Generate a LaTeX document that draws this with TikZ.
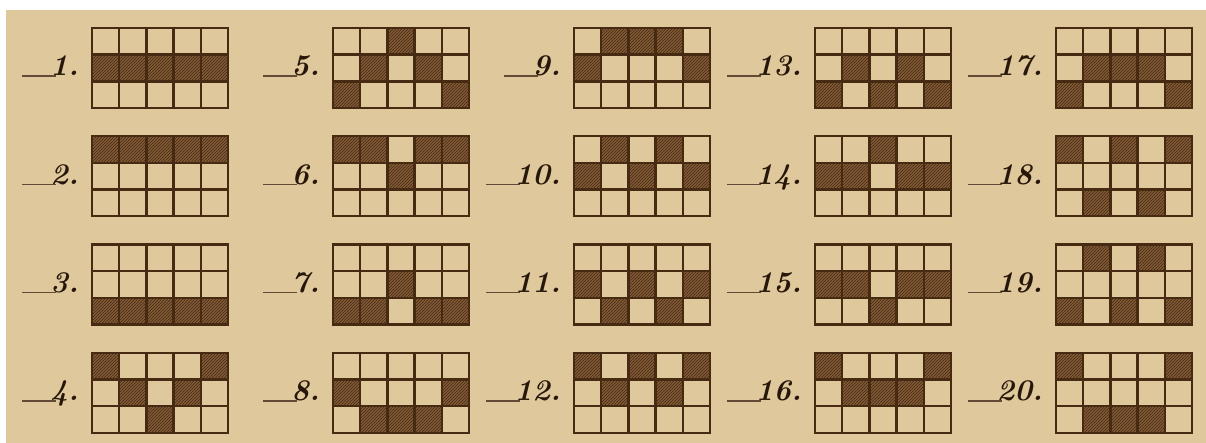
\documentclass[tikz,border=0pt]{standalone}
\usetikzlibrary{patterns,calc}
\definecolor{paper}{RGB}{222,200,156}
\definecolor{ink}{RGB}{70,42,18}
\definecolor{hitFill}{RGB}{130,92,56}
\tikzset{plpanel/.style={
  x=1pt, y=-1pt,
  cellgrid/.style={draw=ink, line width=2.4pt, line cap=rect},
  hit/.style={fill=hitFill},
  hatch/.style={pattern=north east lines, pattern color=ink},
  lab/.style={anchor=base east, inner sep=0pt, text=ink!55!black, font=\fontsize{30}{34}\selectfont\bfseries\itshape},
  rule/.style={draw=ink!85, line width=1.3pt},
}}

\begin{document}
\begin{tikzpicture}[plpanel]
% =====================================================================
%  Twenty pay lines, 5 reels x 3 rows, four per column
% =====================================================================
\useasboundingbox (0,0) rectangle (1206,443);
\fill[white] (0,0) rectangle (1206,443);
\fill[paper] (6,10) rectangle (1206,443);

\foreach \n/\a/\b/\c/\d/\e in {
  1/1/1/1/1/1,  2/0/0/0/0/0,  3/2/2/2/2/2,  4/0/1/2/1/0,
  5/2/1/0/1/2,  6/0/0/1/0/0,  7/2/2/1/2/2,  8/1/2/2/2/1,
  9/1/0/0/0/1, 10/1/0/1/0/1, 11/1/2/1/2/1, 12/0/1/0/1/0,
 13/2/1/2/1/2, 14/1/1/0/1/1, 15/1/1/2/1/1, 16/0/1/1/1/0,
 17/2/1/1/1/2, 18/0/2/0/2/0, 19/2/0/2/0/2, 20/0/2/2/2/0}{
  \pgfmathtruncatemacro\col{(\n-1)/4}
  \pgfmathtruncatemacro\row{mod(\n-1,4)}
  \pgfmathsetmacro\gx{92+241*\col}
  \pgfmathsetmacro\gy{28+108.3*\row}
  \begin{scope}[shift={(\gx,\gy)}]
    % shaded cells of the line
    \foreach \v [count=\i from 0] in {\a,\b,\c,\d,\e}{
      \fill[hit] (27.2*\i,26.67*\v) rectangle ++(27.2,26.67);
      \fill[hatch] (27.2*\i,26.67*\v) rectangle ++(27.2,26.67);
    }
    % the grid
    \foreach \i in {1,...,4}
      \draw[cellgrid] (27.2*\i,0) -- (27.2*\i,80);
    \foreach \j in {1,2}
      \draw[cellgrid] (0,26.67*\j) -- (136,26.67*\j);
    \draw[cellgrid] (0,0) rectangle (136,80);
    % number with its rule
    \node[lab] (l\n) at (-13,48) {\n.};
    \coordinate (r\n) at ($(l\n.base west)+(-28,0)$);
    \draw[rule] (r\n) -- ($(l\n.base west)+(6,0)$);
  \end{scope}
}
\end{tikzpicture}
\end{document}
